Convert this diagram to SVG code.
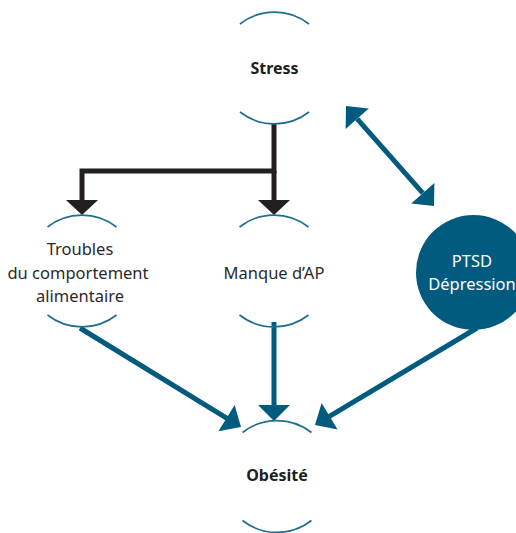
<svg xmlns="http://www.w3.org/2000/svg" width="516" height="533" viewBox="0 0 516 533">
<style>
.arc{fill:none;stroke:#1f6e8f;stroke-width:1.6}
.lbl{font-family:"Noto Sans","Open Sans",sans-serif;font-size:16.5px;fill:#2a2a2a;text-anchor:middle}
.b{font-weight:bold;fill:#1e1e1e;font-size:16px}
.w{fill:#ffffff}
.bl{stroke:#231f20;stroke-width:5;fill:none}
.blh{fill:#231f20}
.cl{stroke:#005b7f;stroke-width:5;fill:none}
.clh{fill:#005b7f}
</style>
<rect width="516" height="533" fill="#ffffff"/>
<g id="connectors">
  <polyline class="bl" points="274,124 274,171 82,171 82,201"/>
  <line class="bl" x1="274" y1="171" x2="274" y2="201"/>
  <polygon class="blh" points="66,200 98,200 82,215"/>
  <polygon class="blh" points="258,200 290,200 274,215"/>
  <line class="cl" x1="357.2" y1="118.8" x2="422.8" y2="193.2"/>
  <polygon class="clh" points="346,106 345.6,129 368.8,108.6"/>
  <polygon class="clh" points="434,206 411.2,203.4 434.4,183"/>
  <line class="cl" x1="80" y1="328" x2="227" y2="418.4"/>
  <polygon class="clh" points="241,427 218.4,431.3 234.6,404.9"/>
  <line class="cl" x1="274" y1="322" x2="274" y2="406"/>
  <polygon class="clh" points="258,405 290,405 274,421"/>
  <line class="cl" x1="477" y1="328" x2="329" y2="416.6"/>
  <polygon class="clh" points="315,425 321.6,403 337.6,429.6"/>
</g>
<g id="stress">
  <path class="arc" d="M240,24 A56,56 0 0 1 309,24"/>
  <path class="arc" d="M240,112 A56,56 0 0 0 309,112"/>
  <text class="lbl b" x="274.5" y="74">Stress</text>
</g>
<g id="troubles">
  <path class="arc" d="M47.5,227 A56,56 0 0 1 116.5,227"/>
  <path class="arc" d="M47.5,315 A56,56 0 0 0 116.5,315"/>
  <text class="lbl" x="80" y="255">Troubles</text>
  <text class="lbl" x="78" y="279">du comportement</text>
  <text class="lbl" x="80" y="302">alimentaire</text>
</g>
<g id="manque">
  <path class="arc" d="M239.5,227 A56,56 0 0 1 308.5,227"/>
  <path class="arc" d="M239.5,315 A56,56 0 0 0 308.5,315"/>
  <text class="lbl" x="274" y="279">Manque d’AP</text>
</g>
<g id="ptsd">
  <circle cx="473.5" cy="272.5" r="57.5" fill="#005b7f"/>
  <text class="lbl w" x="472" y="267">PTSD</text>
  <text class="lbl w" x="472" y="290">Dépression</text>
</g>
<g id="obesite">
  <path class="arc" d="M242.5,432.5 A56,56 0 0 1 311.5,432.5"/>
  <path class="arc" d="M242.5,520.5 A56,56 0 0 0 311.5,520.5"/>
  <text class="lbl b" x="277" y="481">Obésité</text>
</g>
</svg>
